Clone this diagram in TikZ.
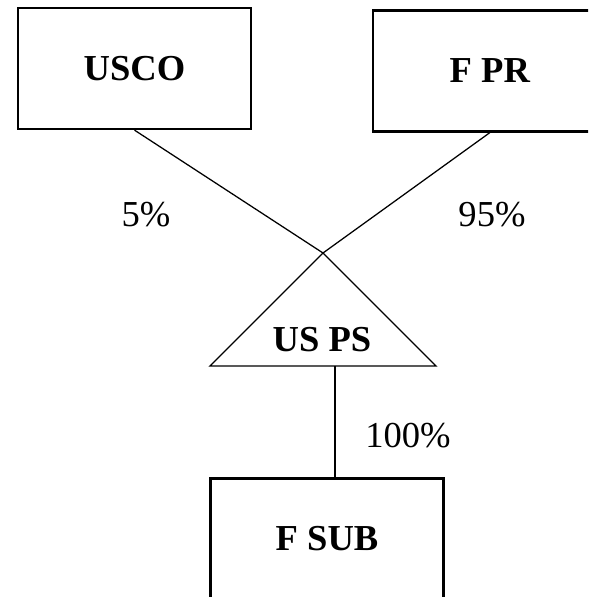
\documentclass[tikz,border=0pt]{standalone}
\usepackage{fontspec}
\setmainfont{Liberation Serif}
\usepackage{tikz}
\usetikzlibrary{positioning}

\begin{document}
\begin{tikzpicture}[x=0.025cm, y=0.025cm,
  ent/.style={rectangle, draw, line width=1.6pt, minimum width=5.825cm,
    minimum height=3.025cm, font=\bfseries\fontsize{26}{30}\selectfont},
  pct/.style={font=\fontsize{26}{30}\selectfont},
  link/.style={line width=0.9pt}]
  \useasboundingbox (0,0) rectangle (588,597);
  \clip (0,0) rectangle (588,597);
  % owners on top
  \node[ent] (usco) at (134.5,528.5) {USCO};
  \node[ent] (fpr) [right = 3cm of usco, yshift=-2.5*0.025cm] {F PR};
  % partnership triangle
  \coordinate (apex) at (323,344);
  \coordinate (baseL) at (210,231);
  \coordinate (baseR) at (436,231);
  \draw [link] (apex) -- (baseR) -- (baseL) -- cycle;
  \node[font=\bfseries\fontsize{26}{30}\selectfont] (usps) at (322,257) {US PS};
  % subsidiary
  \node[ent] (fsub) at (327,58) {F SUB};
  \coordinate (tap) at (335,231);
  \draw [link] (usco.south) -- (apex);
  \draw [link] (fpr.south) -- (apex);
  \draw [line width=1.5pt] (tap) -- (tap |- fsub.north);
  \node[pct] (p5) at (146,382) {5\%};
  \node[pct] (p95) at (492,382) {95\%};
  \node[pct] (p100) at (408,161) {100\%};
\end{tikzpicture}
\end{document}
